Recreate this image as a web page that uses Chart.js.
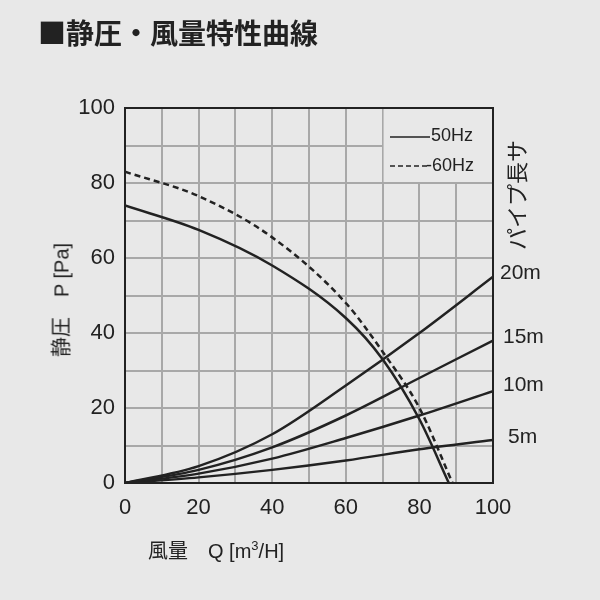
<!DOCTYPE html>
<html lang="ja">
<head>
<meta charset="UTF-8" />
<script src="https://cdn.jsdelivr.net/npm/chart.js"></script>
<style>
  body { margin: 0; background: #e8e8e8; font-family: 'Liberation Sans', 'Noto Sans CJK JP', sans-serif; color: #222; }
  #wrap { position: relative; width: 600px; height: 600px; }
  canvas { position: absolute; left: 0; top: 0; }
  .t { position: absolute; white-space: nowrap; }
  #title { left: 38px; top: 12px; font-size: 28px; font-weight: bold; font-family: 'Noto Sans CJK JP', sans-serif; }
  #ytitle { left: 60px; top: 300px; font-size: 20px; transform: translate(-50%, -50%) rotate(-90deg); }
  #xtitle { left: 148px; top: 535px; font-size: 20px; }
  #pipe { left: 515px; top: 195px; font-size: 22px; transform: translate(-50%, -50%) rotate(-90deg); font-family: 'Noto Sans CJK JP', sans-serif; }
  .len { font-size: 21px; }
</style>
</head>
<body>
<div id="wrap">
  <canvas id="c" width="600" height="600"></canvas>
  <div class="t" id="title">■静圧・風量特性曲線</div>
  <div class="t" id="ytitle">静圧　P [Pa]</div>
  <div class="t" id="xtitle">風量　Q [m<sup style="font-size:13px">3</sup>/H]</div>
  <div class="t" id="pipe">パイプ長サ</div>
  <div class="t len" style="left:500px;top:260px">20m</div>
  <div class="t len" style="left:503px;top:324px">15m</div>
  <div class="t len" style="left:503px;top:372px">10m</div>
  <div class="t len" style="left:508px;top:424px">5m</div>
</div>
<script>
  const hz50 = [[0,74],[20,67.5],[40,58],[60,44],[70,33],[80,17],[88,0]];
  const hz60 = [[0,83],[20,76.5],[40,65.5],[60,48],[70,35],[80,20],[89,0]];
  const pipe20 = [[0,0],[20,4.5],[40,13],[60,26],[80,40],[100,55]];
  const pipe15 = [[0,0],[20,3.5],[40,9.5],[60,18],[80,28],[100,38]];
  const pipe10 = [[0,0],[20,2.5],[40,6.5],[60,12],[80,18],[100,24.5]];
  const pipe5 = [[0,0],[20,1.5],[40,3.5],[60,6],[80,9],[100,11.5]];

  const pts = a => a.map(p => ({ x: p[0], y: p[1] }));
  const line = (d, dash) => ({ data: pts(d), borderColor: '#222', borderWidth: 2.5, pointRadius: 0,
    cubicInterpolationMode: 'monotone', borderDash: dash || [] });

  const legendBox = {
    id: 'legendBox',
    beforeDatasetsDraw(chart) {
      const { ctx, scales: { x, y } } = chart;
      const l = x.getPixelForValue(70), r = x.getPixelForValue(100);
      const t = y.getPixelForValue(100), b = y.getPixelForValue(80);
      ctx.save();
      ctx.fillStyle = '#e8e8e8';
      ctx.fillRect(l + 1, t, r - l - 1, b - t - 1);
      ctx.strokeStyle = '#222'; ctx.lineWidth = 1.5;
      ctx.font = '18px "Liberation Sans"'; ctx.fillStyle = '#222'; ctx.textBaseline = 'middle';
      ctx.beginPath(); ctx.moveTo(390, 137); ctx.lineTo(430, 137); ctx.stroke();
      ctx.setLineDash([5, 3]);
      ctx.beginPath(); ctx.moveTo(390, 166); ctx.lineTo(428, 166); ctx.stroke();
      ctx.setLineDash([]);
      ctx.fillText('50Hz', 431, 136);
      ctx.fillText('-60Hz', 426, 166);
      ctx.restore();
    }
  };

  new Chart(document.getElementById('c'), {
    type: 'line',
    data: { datasets: [line(hz50), line(hz60, [6, 4]), line(pipe20), line(pipe15), line(pipe10), line(pipe5)] },
    options: {
      responsive: false, animation: false,
      layout: { padding: { top: 108, right: 107, bottom: 77, left: 0 } },
      plugins: { legend: { display: false }, tooltip: { enabled: false } },
      scales: {
        x: {
          type: 'linear', min: 0, max: 100,
          afterFit: s => { s.height = 40; },
          grid: { color: '#a8a8a8', lineWidth: 2, drawTicks: false },
          border: { color: '#222', width: 2 },
          ticks: { stepSize: 10, autoSkip: false, maxRotation: 0, color: '#222', font: { size: 22, family: 'Liberation Sans' }, padding: 12,
            callback: v => v % 20 === 0 ? v : '' }
        },
        y: {
          min: 0, max: 100,
          afterFit: s => { s.width = 125; },
          grid: { color: '#a8a8a8', lineWidth: 2, drawTicks: false },
          border: { color: '#222', width: 2 },
          ticks: { stepSize: 10, autoSkip: false, color: '#222', font: { size: 22, family: 'Liberation Sans' }, padding: 10,
            callback: v => v % 20 === 0 ? v : '' }
        }
      }
    },
    plugins: [legendBox, {
      id: 'frame',
      afterDraw(chart) {
        const { ctx, chartArea: a } = chart;
        ctx.save(); ctx.strokeStyle = '#222'; ctx.lineWidth = 2;
        ctx.strokeRect(a.left, a.top, a.right - a.left, a.bottom - a.top);
        ctx.restore();
      }
    }]
  });
</script>
</body>
</html>
